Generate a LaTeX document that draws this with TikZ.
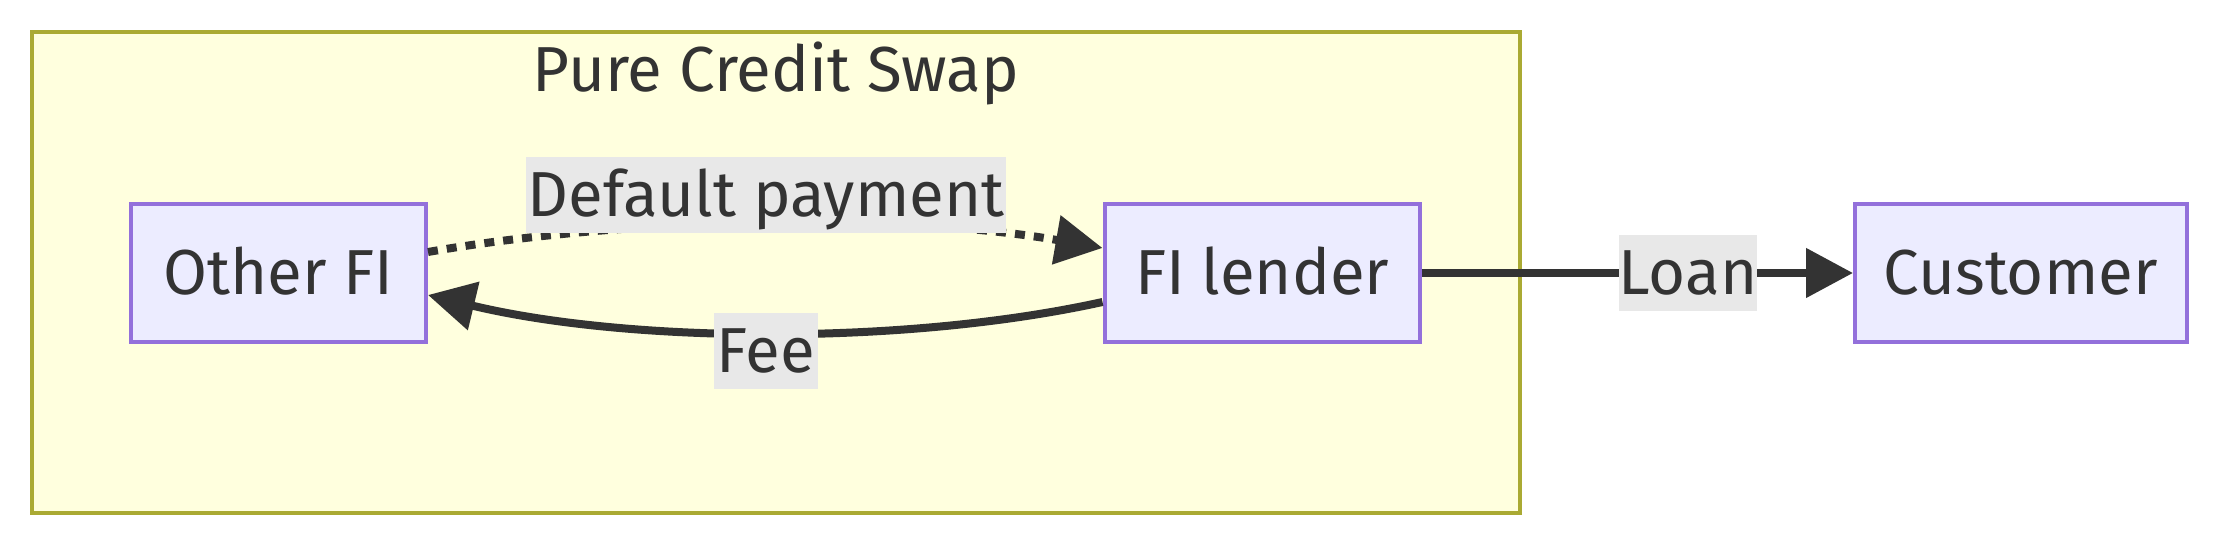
\documentclass[tikz,border=0pt]{standalone}
\usepackage{fontspec}
\setmainfont{Fira Sans}
\usetikzlibrary{arrows.meta,calc}
\definecolor{clfill}{HTML}{FFFFDE}
\definecolor{clstroke}{HTML}{AAAA33}
\definecolor{nodefill}{HTML}{ECECFF}
\definecolor{nodestroke}{HTML}{9370DB}
\definecolor{lblfill}{HTML}{E8E8E8}
\definecolor{ink}{HTML}{333333}
\tikzset{
  cluster/.style={draw=clstroke, fill=clfill, line width=2pt, inner sep=0pt},
  box/.style={draw=nodestroke, fill=nodefill, line width=2pt, inner sep=0pt,
    minimum height=69pt, text height=22pt, text depth=0pt, text=ink},
  lbl/.style={fill=lblfill, inner sep=0pt, minimum height=38pt,
    text height=22pt, text depth=0pt, text=ink},
  ttl/.style={inner sep=0pt, text height=22pt, text depth=0pt, text=ink},
  flow/.style={draw=ink, line width=4pt, -{Triangle[length=23.5pt,width=24pt]}},
  dotflow/.style={flow, dash pattern=on 5pt off 4.5pt}
}
\begin{document}
\begin{tikzpicture}[x=0.5pt,y=-0.5pt,font=\fontsize{31.8}{38}\selectfont]
\useasboundingbox (0,0) rectangle (2216,544);
\node[cluster, minimum width=744pt, minimum height=240.8pt] (swap) at (775.6,272.7) {};
\node[ttl] (title) at (776,69.5) {Pure Credit Swap};
\node[box, minimum width=147.5pt] (ofi) at (278.5,273) {Other FI};
\node[box, minimum width=157.75pt] (fil) at (1262.25,273) {FI lender};
\node[box, minimum width=165.75pt] (cust) at (2020.75,273) {Customer};
\draw[dotflow] ($(ofi.east)+(0,-21)$) .. controls ($(ofi.east)+(200,-56)$) and ($(fil.west)+(-200,-60)$) .. ($(fil.west)+(0,-25)$);
\draw[flow] ($(fil.west)+(0,29)$) .. controls ($(fil.west)+(-200,73)$) and ($(ofi.east)+(200,70)$) .. ($(ofi.east)+(0,22)$);
\draw[flow] (fil.east) -- (cust.west);
\node[lbl, minimum width=240pt] (dp) at (766,195) {Default payment};
\node[lbl, minimum width=52pt] (fee) at (765.5,351) {Fee};
\node[lbl, minimum width=68pt] (loan) at (1688,273) {Loan};
\end{tikzpicture}
\end{document}
